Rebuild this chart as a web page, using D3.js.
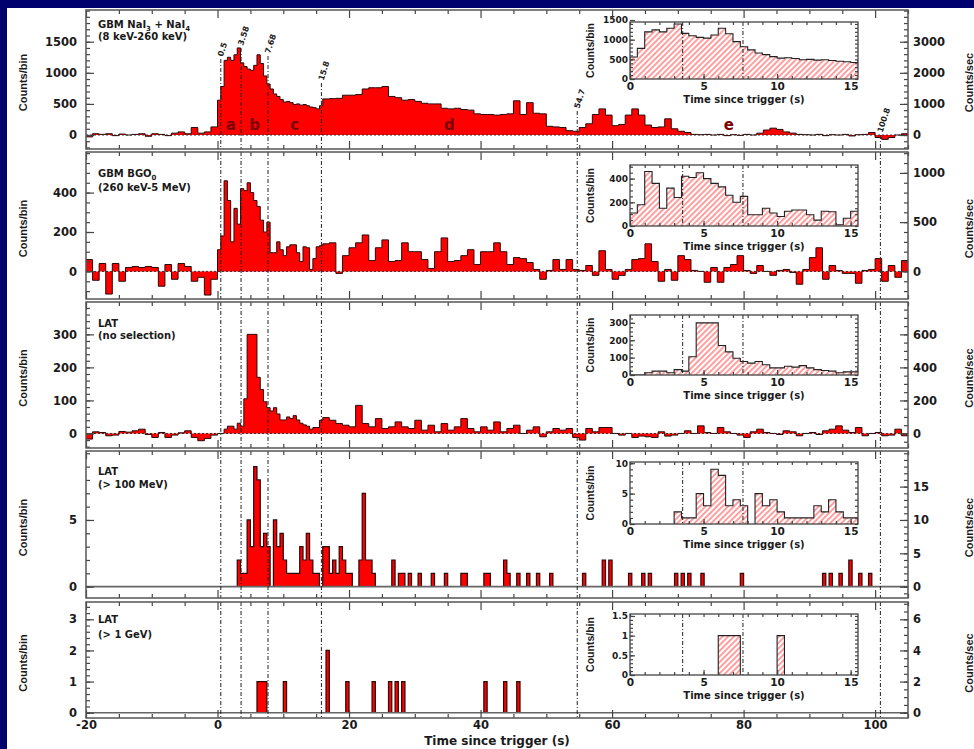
<!DOCTYPE html>
<html><head><meta charset="utf-8">
<script src="https://cdn.jsdelivr.net/npm/d3@7"></script>
<style>
html,body{margin:0;padding:0;background:#00006e;}
svg{display:block;}
text{font-family:"DejaVu Sans",sans-serif;font-weight:bold;fill:#1a1a1a;}
.vt{font-family:"Liberation Sans",Arial,sans-serif;font-weight:bold;}
</style></head><body>
<svg id="chart" width="974" height="749"></svg>
<script>
// ================= DATA =================
const timeTicks = [-20, 0, 20, 40, 60, 80, 100];
const insetTimeTicks = [0, 5, 10, 15];
const markerTimes = [0.5, 3.58, 7.68, 15.8, 54.7, 100.8];
const markerLabels = ["0.5", "3.58", "7.68", "15.8", "54.7", "100.8"];
const insetMarkerTimes = [3.58, 7.68];
const intervalLetters = ["a", "b", "c", "d", "e"];

// GBM NaI3+NaI4 (counts/bin): pre = 1-s steps t=-20..-1, burst = 0.5-s bins t=0..15.5, tail = 1-s steps t=16..104
const naiPre = [-30, 20, 10, 20, -10, 15, 0, 10, 20, -20, 20, 10, -10, 30, 50, 20, 120, 30, 50, 130];
const naiBurst = [560, 780, 1200, 1250, 1200, 1290, 1400, 1160, 1100, 1060, 1040, 1120, 1290, 1150, 950, 820,
                  740, 660, 620, 570, 530, 540, 520, 490, 500, 480, 490, 470, 450, 440, 420, 470];
const naiTail = [580, 585, 590, 640, 640, 650, 740, 760, 760, 780,
                 620, 600, 560, 570, 540, 510, 500, 500, 430, 420,
                 430, 410, 400, 340, 330, 330, 320, 330, 340, 550,
                 330, 520, 350, 340, 140, 130, 120, 70, 60, 120,
                 180, 330, 420, 320, 150, 170, 320, 420, 320, 160,
                 120, 130, 260, 100, 60, 40, 10, 5, 10, 0,
                 10, -10, 5, -5, 10, 0, 30, 80, 110, 90,
                 50, 30, 10, 5, 0, 10, -10, 5, 0, 10,
                 -15, 5, 10, 40, -40, -70, -40, 0, 20];

// GBM BGO0
const bgoPre = [60, -45, 40, -115, 40, -50, 20, 25, 20, 25, 20, -75, 35, -40, 40, 25, -50, -30, -120, -40];
const bgoBurst = [110, 180, 460, 360, 150, 320, 240, 420, 410, 450, 400, 360, 330, 260, 200, 250,
                  95, 95, 150, 110, 80, 125, 135, 135, 95, 50, 125, 120, 10, 65, 125, 130];
const bgoTail = [140, 145, -10, 80, 120, 145, 185, 55, 120, 160,
                 50, 55, 145, 100, 100, 60, 15, 100, 170, 50,
                 55, 80, 110, 35, 100, 100, 145, 100, 35, 70,
                 65, 45, 10, -40, 5, 60, 10, 60, 10, 5,
                 30, -20, 105, 10, -40, -20, 10, 60, 65, 140,
                 50, -50, 10, -45, 80, 60, 5, 0, -55, 20,
                 -55, 20, 35, 80, 5, -10, 30, 0, -20, 5,
                 10, -5, -65, 10, 70, 120, -40, 30, 5, -10,
                 -10, -60, 5, 10, 65, -50, 30, -30, 55];

// LAT (no selection)
const latPre = [-17, 5, 3, -7, -5, 6, 4, 8, 13, -3, -12, 3, -12, -5, 2, 8, -12, -22, -15, -5];
const latBurst = [0, 0, 13, 22, 22, 13, 31, 22, 105, 300, 300, 300, 170, 133, 96, 78,
                  68, 78, 59, 41, 41, 50, 45, 54, 41, 31, 26, 22, 13, 18, 18, 40];
const latTail = [48, 40, 30, 25, 20, 85, 30, 20, 45, 15,
                 20, 35, 20, 15, 40, 10, 25, 5, 30, 10,
                 20, 45, 15, 5, 20, 10, 35, 5, 15, 25,
                 0, 10, 20, -10, 5, 15, 10, 15, -12, -20,
                 15, 5, 18, 18, 0, -5, 0, -12, -8, -10,
                 -12, 5, -8, -5, 0, 8, 0, 23, 3, 0,
                 18, 5, 0, -5, -12, 5, 13, 3, 0, -3,
                 8, 5, -7, 0, 3, -3, 8, 13, 23, 10,
                 3, 18, -7, 0, 3, -7, -5, 13, -7];

// LAT > 100 MeV (0.5-s bins; start time and counts of non-empty bins)
const lat100Times = [3.0, 3.5, 4.0, 4.5, 5.0, 5.5, 6.0, 6.5, 7.0, 7.5, 8.5, 9.0, 9.5, 10.0, 10.5, 11.0, 11.5, 12.0,
                     12.5, 13.0, 13.5, 14.0, 14.5, 15.0, 16.0, 16.5, 17.0, 17.5, 18.0, 18.5, 19.0, 19.5, 20.0,
                     21.5, 22.0, 22.5, 23.0, 23.5, 26.5, 27.5, 28.0, 29.0, 30.5, 32.5, 34.5, 37.0, 37.5, 40.5,
                     41.0, 43.5, 44.0, 45.5, 47.0, 48.5, 50.5, 55.5, 58.5, 59.5, 62.5, 64.5, 65.5, 69.5, 70.5,
                     71.5, 73.5, 79.5, 92.0, 93.0, 94.5, 96.0, 97.5, 99.0];
const lat100Counts = [2, 1, 1, 5, 3, 9, 8, 3, 4, 3, 5, 3, 4, 2, 1, 1, 1, 1,
                      3, 2, 4, 2, 1, 1, 3, 3, 1, 2, 1, 3, 2, 1, 1,
                      2, 7, 2, 2, 1, 2, 1, 1, 1, 1, 1, 1, 1, 1, 1,
                      1, 2, 1, 1, 1, 1, 1, 1, 2, 2, 1, 1, 1, 1, 1,
                      1, 1, 1, 1, 1, 1, 2, 1, 1];

// LAT > 1 GeV
const lat1GeVTimes = [6.0, 6.5, 7.0, 10.0, 16.5, 19.5, 23.5, 26.0, 27.0, 28.0, 40.5, 43.5, 45.5];
const lat1GeVCounts = [1, 1, 1, 1, 2, 1, 1, 1, 1, 1, 1, 1, 1];

// ================= BUILD BINS =================
function denseBins(pre, burst, tail) {
  const b = [];
  pre.forEach((v, i) => b.push({t0: -20 + i, t1: -19 + i, v}));
  burst.forEach((v, i) => b.push({t0: i * 0.5, t1: i * 0.5 + 0.5, v}));
  tail.forEach((v, i) => b.push({t0: 16 + i, t1: 17 + i, v}));
  return b;
}
const halfBins = burst => burst.map((v, i) => ({t0: i * 0.5, t1: i * 0.5 + 0.5, v}));
const sparseBins = (times, counts) => times.map((t, i) => ({t0: t, t1: t + 0.5, v: counts[i]}));

// ================= LAYOUT =================
const W = 974, H = 749;
const X0 = 86, X1 = 908;
const IX0 = 630, IX1 = 858;
const markerLabelBottom = [57, 46, 54, 81, 109, 133];

const panels = [
  {top: 10, bottom: 149, dom: [-225, 2010], lMaj: [0, 500, 1000, 1500], lMin: 100, rMaj: [0, 1000, 2000, 3000], rMin: 200,
   title: [[["GBM NaI"], ["3", 1], [" + NaI"], ["4", 1]], [["(8 keV-260 keV)"]]], titleY: [17.5, 30], zeroDots: true,
   bins: denseBins(naiPre, naiBurst, naiTail), insetBins: halfBins(naiBurst), sparse: false,
   inset: {top: 22, bottom: 79, dom: [0, 1450], maj: [0, 500, 1000, 1500], min: 100}},
  {top: 152, bottom: 299, dom: [-140, 606], lMaj: [0, 200, 400], lMin: 50, rMaj: [0, 500, 1000], rMin: 100,
   title: [[["GBM BGO"], ["0", 1]], [["(260 keV-5 MeV)"]]], titleY: [24.5, 38.5], zeroDots: true,
   bins: denseBins(bgoPre, bgoBurst, bgoTail), insetBins: halfBins(bgoBurst), sparse: false,
   inset: {top: 165, bottom: 226, dom: [0, 515], maj: [0, 200, 400], min: 50}},
  {top: 302, bottom: 448, dom: [-44, 398], lMaj: [0, 100, 200, 300], lMin: 20, rMaj: [0, 200, 400, 600], rMin: 50,
   title: [[["LAT"]], [["(no selection)"]]], titleY: [24.5, 37], zeroDots: true,
   bins: denseBins(latPre, latBurst, latTail), insetBins: halfBins(latBurst), sparse: false,
   inset: {top: 315, bottom: 375, dom: [0, 345], maj: [0, 100, 200, 300], min: 25}},
  {top: 451, bottom: 598, dom: [-0.85, 10.17], lMaj: [0, 5], lMin: 1, rMaj: [0, 5, 10, 15], rMin: 1,
   title: [[["LAT"]], [["(> 100 MeV)"]]], titleY: [24, 37], zeroDots: false,
   bins: sparseBins(lat100Times, lat100Counts), sparse: true,
   inset: {top: 462, bottom: 524, dom: [0, 10.2], maj: [0, 5, 10], min: 1}},
  {top: 602, bottom: 718, dom: [-0.17, 3.556], lMaj: [0, 1, 2, 3], lMin: 0.2, rMaj: [0, 2, 4, 6], rMin: 0.5,
   title: [[["LAT"]], [["(> 1 GeV)"]]], titleY: [21.3, 35.5], zeroDots: false,
   bins: sparseBins(lat1GeVTimes, lat1GeVCounts), sparse: true,
   inset: {top: 614, bottom: 675, dom: [0, 1.55], maj: [0, 0.5, 1, 1.5], min: 0.1}}
];

// ================= DRAW =================
const svg = d3.select("#chart");
svg.append("rect").attr("width", W).attr("height", H).attr("fill", "#00006e");
svg.append("rect").attr("x", 7).attr("y", 8).attr("width", W - 7).attr("height", H - 8).attr("fill", "#fff");
const defs = svg.append("defs");
const pat = defs.append("pattern").attr("id", "hatch").attr("patternUnits", "userSpaceOnUse")
  .attr("width", 4).attr("height", 4).attr("patternTransform", "rotate(45)");
pat.append("line").attr("x1", 1).attr("y1", 0).attr("x2", 1).attr("y2", 4)
  .attr("stroke", "#ff6a6a").attr("stroke-width", 1.3);

const x = d3.scaleLinear().domain([-20, 105]).range([X0, X1]);
const xi = d3.scaleLinear().domain([0, 15.5]).range([IX0, IX1]);

function runsOf(bins) {
  const out = [];
  bins.forEach(b => {
    const last = out.length ? out[out.length - 1] : null;
    if (last && Math.abs(last[last.length - 1].t1 - b.t0) < 1e-6) last.push(b);
    else out.push([b]);
  });
  return out;
}
function fillPath(run, xs, ys) {
  let d = `M${xs(run[0].t0)},${ys(0)}`;
  run.forEach(b => { d += `L${xs(b.t0)},${ys(b.v)}L${xs(b.t1)},${ys(b.v)}`; });
  return d + `L${xs(run[run.length - 1].t1)},${ys(0)}Z`;
}
function linePath(run, xs, ys, ends) {
  let d = ends ? `M${xs(run[0].t0)},${ys(0)}` : `M${xs(run[0].t0)},${ys(run[0].v)}`;
  run.forEach(b => { d += `L${xs(b.t0)},${ys(b.v)}L${xs(b.t1)},${ys(b.v)}`; });
  if (ends) d += `L${xs(run[run.length - 1].t1)},${ys(0)}`;
  return d;
}
function minorVals(dom, step) {
  const s = Math.ceil(dom[0] / step - 1e-9), e = Math.floor(dom[1] / step + 1e-9);
  return d3.range(s, e + 1).map(k => +(k * step).toFixed(6));
}
function styleAxis(sel, hideText) {
  sel.select(".domain").remove();
  sel.selectAll(".tick line").attr("stroke", "#444").attr("stroke-width", 1.2);
  if (hideText) sel.selectAll(".tick text").remove();
  return sel;
}
const fmtG = v => String(v);

panels.forEach((p, pi) => {
  const y = d3.scaleLinear().domain(p.dom).range([p.bottom, p.top]);
  const yR = d3.scaleLinear().domain([p.dom[0] * 2, p.dom[1] * 2]).range([p.bottom, p.top]);
  const g = svg.append("g");
  const cid = "clip" + pi;
  defs.append("clipPath").attr("id", cid).append("rect")
    .attr("x", X0).attr("y", p.top).attr("width", X1 - X0).attr("height", p.bottom - p.top);
  const dg = g.append("g").attr("clip-path", `url(#${cid})`);

  runsOf(p.bins).forEach(r => {
    dg.append("path").attr("d", fillPath(r, x, y)).attr("fill", "#ff0000");
    dg.append("path").attr("d", linePath(r, x, y, p.sparse)).attr("fill", "none")
      .attr("stroke", "#2a0808").attr("stroke-width", p.sparse ? 1.2 : 1);
  });

  // zero line
  if (p.zeroDots) {
    dg.append("line").attr("x1", X0).attr("x2", X1).attr("y1", y(0)).attr("y2", y(0))
      .attr("stroke", "#222").attr("stroke-width", 0.9).attr("stroke-dasharray", "2,2");
  } else {
    dg.append("line").attr("x1", X0).attr("x2", X1).attr("y1", y(0)).attr("y2", y(0))
      .attr("stroke", "#666").attr("stroke-width", 1.6);
  }

  // marker lines
  markerTimes.forEach((t, k) => {
    const y1 = pi === 0 ? markerLabelBottom[k] + 2 : p.top;
    dg.append("line").attr("x1", x(t)).attr("x2", x(t)).attr("y1", y1).attr("y2", p.bottom)
      .attr("stroke", "#222").attr("stroke-width", 1).attr("stroke-dasharray", "4,2,1,2");
  });

  // ----- inset -----
  const ins = p.inset;
  const yi = d3.scaleLinear().domain(ins.dom).range([ins.bottom, ins.top]);
  const ig = g.append("g");
  ig.append("rect").attr("x", IX0).attr("y", ins.top).attr("width", IX1 - IX0).attr("height", ins.bottom - ins.top)
    .attr("fill", "#fff");
  const icid = "iclip" + pi;
  defs.append("clipPath").attr("id", icid).append("rect")
    .attr("x", IX0).attr("y", ins.top - 1).attr("width", IX1 - IX0).attr("height", ins.bottom - ins.top + 1);
  const idg = ig.append("g").attr("clip-path", `url(#${icid})`);
  const ibins = p.sparse ? p.bins.filter(b => b.t0 < 15.5) : p.insetBins;
  runsOf(ibins).forEach(r => {
    idg.append("path").attr("d", fillPath(r, xi, yi)).attr("fill", "url(#hatch)");
    idg.append("path").attr("d", linePath(r, xi, yi, true)).attr("fill", "none")
      .attr("stroke", "#222").attr("stroke-width", 1.1);
  });
  insetMarkerTimes.forEach(t => {
    idg.append("line").attr("x1", xi(t)).attr("x2", xi(t)).attr("y1", ins.top).attr("y2", ins.bottom)
      .attr("stroke", "#222").attr("stroke-width", 1).attr("stroke-dasharray", "4,2,1,2");
  });
  // inset axes
  styleAxis(ig.append("g").attr("transform", `translate(0,${ins.bottom})`)
    .call(d3.axisBottom(xi).tickValues(insetTimeTicks).tickSize(-5).tickPadding(4).tickFormat(fmtG)))
    .selectAll("text").style("font-size", "10.5px");
  styleAxis(ig.append("g").attr("transform", `translate(0,${ins.bottom})`)
    .call(d3.axisBottom(xi).tickValues(d3.range(1, 16)).tickSize(-3)), true);
  styleAxis(ig.append("g").attr("transform", `translate(0,${ins.top})`)
    .call(d3.axisTop(xi).tickValues(d3.range(0, 16)).tickSize(-3)), true);
  styleAxis(ig.append("g").attr("transform", `translate(${IX0},0)`)
    .call(d3.axisLeft(yi).tickValues(ins.maj).tickSize(-5).tickPadding(2).tickFormat(fmtG)))
    .selectAll("text").style("font-size", "9px");
  styleAxis(ig.append("g").attr("transform", `translate(${IX0},0)`)
    .call(d3.axisLeft(yi).tickValues(minorVals(ins.dom, ins.min)).tickSize(-3)), true);
  styleAxis(ig.append("g").attr("transform", `translate(${IX1},0)`)
    .call(d3.axisRight(yi).tickValues(minorVals(ins.dom, ins.min)).tickSize(-3)), true);
  ig.append("rect").attr("x", IX0).attr("y", ins.top).attr("width", IX1 - IX0).attr("height", ins.bottom - ins.top)
    .attr("fill", "none").attr("stroke", "#444").attr("stroke-width", 1.3);
  ig.append("text").attr("x", (IX0 + IX1) / 2).attr("y", ins.bottom + 24).attr("text-anchor", "middle")
    .style("font-size", "10px").text("Time since trigger (s)");
  ig.append("text").attr("class", "vt").attr("transform", `translate(594,${(ins.top + ins.bottom) / 2}) rotate(-90)`)
    .attr("text-anchor", "middle").style("font-size", "10.5px").text("Counts/bin");

  // ----- main axes -----
  const ag = g.append("g");
  styleAxis(ag.append("g").attr("transform", `translate(${X0},0)`)
    .call(d3.axisLeft(y).tickValues(p.lMaj).tickSize(-8).tickPadding(9).tickFormat(fmtG)))
    .selectAll("text").style("font-size", "11.5px");
  styleAxis(ag.append("g").attr("transform", `translate(${X0},0)`)
    .call(d3.axisLeft(y).tickValues(minorVals(p.dom, p.lMin)).tickSize(-4)), true);
  styleAxis(ag.append("g").attr("transform", `translate(${X1},0)`)
    .call(d3.axisRight(yR).tickValues(p.rMaj).tickSize(-8).tickPadding(5).tickFormat(fmtG)))
    .selectAll("text").style("font-size", "11.5px");
  styleAxis(ag.append("g").attr("transform", `translate(${X1},0)`)
    .call(d3.axisRight(yR).tickValues(minorVals([p.dom[0] * 2, p.dom[1] * 2], p.rMin)).tickSize(-4)), true);
  const xMinor = d3.range(-20, 106, 5).filter(v => v % 20 !== 0);
  styleAxis(ag.append("g").attr("transform", `translate(0,${p.top})`)
    .call(d3.axisTop(x).tickValues(timeTicks).tickSize(-8)), true);
  styleAxis(ag.append("g").attr("transform", `translate(0,${p.top})`)
    .call(d3.axisTop(x).tickValues(xMinor).tickSize(-4)), true);
  const bAx = styleAxis(ag.append("g").attr("transform", `translate(0,${p.bottom})`)
    .call(d3.axisBottom(x).tickValues(timeTicks).tickSize(-8).tickPadding(3).tickFormat(fmtG)), pi !== 4);
  bAx.selectAll("text").style("font-size", "11.5px");
  styleAxis(ag.append("g").attr("transform", `translate(0,${p.bottom})`)
    .call(d3.axisBottom(x).tickValues(xMinor).tickSize(-4)), true);
  ag.append("rect").attr("x", X0).attr("y", p.top).attr("width", X1 - X0).attr("height", p.bottom - p.top)
    .attr("fill", "none").attr("stroke", "#555").attr("stroke-width", 1.5);

  // titles
  p.title.forEach((line, li) => {
    const t = g.append("text").attr("x", 98).attr("y", p.top + p.titleY[li]).style("font-size", "10px");
    let shifted = false;
    line.forEach(seg => {
      const ts = t.append("tspan").text(seg[0]);
      if (seg[1]) { ts.attr("dy", 3).style("font-size", "7px"); shifted = true; }
      else if (shifted) { ts.attr("dy", -3); shifted = false; }
    });
  });
  // axis titles
  g.append("text").attr("class", "vt").attr("transform", `translate(27,${(p.top + p.bottom) / 2 + 3}) rotate(-90)`)
    .attr("text-anchor", "middle").style("font-size", "11px").text("Counts/bin");
  g.append("text").attr("class", "vt").attr("transform", `translate(973,${(p.top + p.bottom) / 2 + 3}) rotate(-90)`)
    .attr("text-anchor", "middle").style("font-size", "11px").text("Counts/sec");

  if (pi === 0) {
    markerTimes.forEach((t, k) => {
      g.append("text").attr("transform", `translate(${x(t) + 2},${markerLabelBottom[k]}) rotate(-72)`)
        .style("font-size", "8px").text(markerLabels[k]);
    });
    intervalLetters.forEach((L, k) => {
      const mid = (markerTimes[k] + markerTimes[k + 1]) / 2;
      g.append("text").attr("x", x(mid)).attr("y", y(0) - 5).attr("text-anchor", "middle")
        .style("font-size", "15px").style("fill", "#7a0000").text(L);
    });
  }
});

svg.append("text").attr("x", (X0 + X1) / 2).attr("y", 745).attr("text-anchor", "middle")
  .style("font-size", "12px").text("Time since trigger (s)");
</script>
</body></html>
